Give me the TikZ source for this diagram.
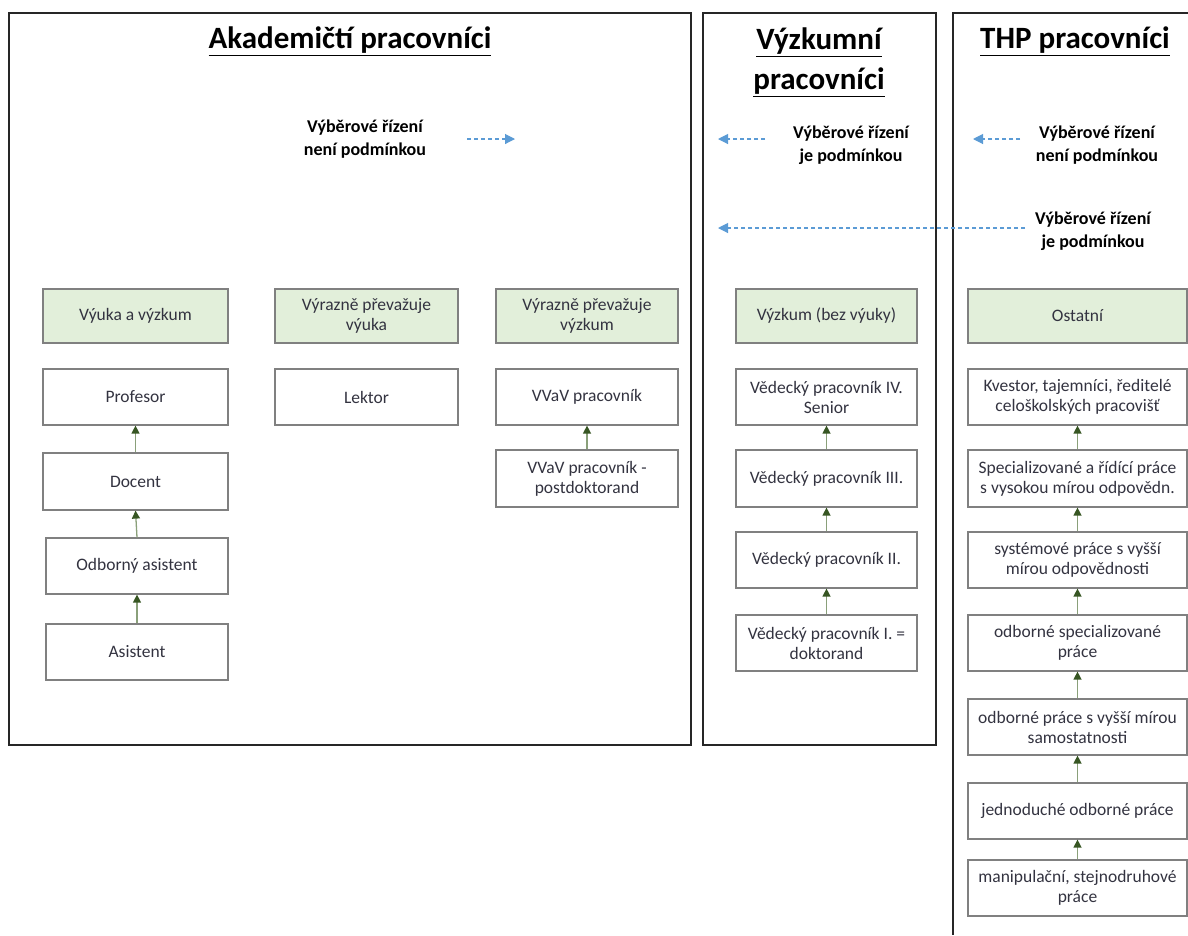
\documentclass[tikz,border=0pt]{standalone}
\usepackage{fontspec}
\setmainfont{Carlito}
\usetikzlibrary{arrows.meta}
\definecolor{hdrfill}{HTML}{E2EFDA}
\definecolor{boxline}{HTML}{808080}
\definecolor{txt}{HTML}{333340}
\definecolor{arrgreen}{HTML}{375623}
\definecolor{lnkgreen}{HTML}{8AA07A}
\definecolor{dblue}{HTML}{5B9BD5}
\tikzset{
  wbox/.style={draw=boxline, line width=1.2pt, fill=white, text=txt, font=\fontsize{17.5}{20}\selectfont, align=center, inner sep=2pt},
  gbox/.style={wbox, fill=hdrfill},
  frame/.style={draw=black!85, line width=1.5pt},
  uparr/.style={draw=lnkgreen, line width=1.3pt, -{Triangle[width=8pt,length=8pt,fill=arrgreen,color=arrgreen]}},
  selarr/.style={draw=dblue, line width=1.1pt, dash pattern=on 4pt off 3pt, -{Triangle[width=10pt,length=10pt,fill=dblue,color=dblue]}},
  lbl/.style={font=\bfseries\fontsize{18}{23}\selectfont, align=center, text=black},
  ttl/.style={font=\bfseries\fontsize{31}{40}\selectfont, align=center, text=black}
}
\begin{document}
\begin{tikzpicture}[x=1pt,y=-1pt]
\useasboundingbox (0,0) rectangle (1188,935);
% frames
\draw[frame] (9,13) rectangle (691,745);
\draw[frame] (703,13) rectangle (936,745);
\draw[frame] (1188,13) -- (953,13) -- (953,935);
% titles
\node[ttl] (t1) at (350,41) {\underline{Akademičtí pracovníci}};
\node[ttl] (t2) at (819,62) {\underline{Výzkumní}\\\underline{pracovníci}};
\node[ttl] (t3) at (1075,41) {\underline{THP pracovníci}};
% labels
\node[lbl] (l1) at (365,139) {Výběrové řízení\\není podmínkou};
\node[lbl] (l2) at (851,145) {Výběrové řízení\\je podmínkou};
\node[lbl] (l3) at (1097,145) {Výběrové řízení\\není podmínkou};
\node[lbl] (l4) at (1093,231) {Výběrové řízení\\je podmínkou};
\coordinate (a1s) at (467,139); \coordinate (a1e) at (515,139);
\coordinate (a2s) at (765,139); \coordinate (a2e) at (718,139);
\coordinate (a3s) at (1020,139); \coordinate (a3e) at (973,139);
\coordinate (a4s) at (1025,228); \coordinate (a4e) at (718,228);
\draw[selarr] (a1s) -- (a1e);
\draw[selarr] (a2s) -- (a2e);
\draw[selarr] (a3s) -- (a3e);
\draw[selarr] (a4s) -- (a4e);
% headers
\node[gbox, minimum width=185pt, minimum height=54pt] (h1) at (135.5,316) {Výuka a výzkum};
\node[gbox, minimum width=183pt, minimum height=54pt] (h2) at (366.5,316) {Výrazně převažuje\\výuka};
\node[gbox, minimum width=182pt, minimum height=54pt] (h3) at (587,316) {Výrazně převažuje\\výzkum};
\node[gbox, minimum width=181pt, minimum height=54pt] (h4) at (826.5,316) {Výzkum (bez výuky)};
\node[gbox, minimum width=219pt, minimum height=54pt] (h5) at (1077.5,316) {Ostatní};
% column 1
\node[wbox, minimum width=185pt, minimum height=56pt] (prof) at (135.5,397) {Profesor};
\node[wbox, minimum width=185pt, minimum height=57pt] (doc) at (135.5,481.5) {Docent};
\node[wbox, minimum width=182pt, minimum height=56pt] (oa) at (137,566) {Odborný asistent};
\node[wbox, minimum width=182pt, minimum height=56pt] (as) at (137,652) {Asistent};
\draw[uparr] (doc.north) -- (prof.south);
\draw[uparr] (oa.north) -- (doc.south);
\draw[uparr] (as.north) -- (oa.south);
% column 2
\node[wbox, minimum width=183pt, minimum height=56pt] (lek) at (366.5,397) {Lektor};
% column 3
\node[wbox, minimum width=182pt, minimum height=56pt] (vv1) at (587,397) {VVaV pracovník};
\node[wbox, minimum width=182pt, minimum height=57pt] (vv2) at (587,478.5) {VVaV pracovník -\\postdoktorand};
\draw[uparr] (vv2.north) -- (vv1.south);
% column 4
\node[wbox, minimum width=181pt, minimum height=56pt] (v4) at (826.5,397) {Vědecký pracovník IV.\\Senior};
\node[wbox, minimum width=181pt, minimum height=57pt] (v3) at (826.5,478.5) {Vědecký pracovník III.};
\node[wbox, minimum width=181pt, minimum height=56pt] (v2) at (826.5,560) {Vědecký pracovník II.};
\node[wbox, minimum width=181pt, minimum height=56pt] (v1) at (826.5,643) {Vědecký pracovník I. =\\doktorand};
\draw[uparr] (v3.north) -- (v4.south);
\draw[uparr] (v2.north) -- (v3.south);
\draw[uparr] (v1.north) -- (v2.south);
% column 5
\node[wbox, minimum width=219pt, minimum height=56pt] (p7) at (1077.5,397) {Kvestor, tajemníci, ředitelé\\celoškolských pracovišť};
\node[wbox, minimum width=219pt, minimum height=57pt] (p6) at (1077.5,478.5) {Specializované a řídící práce\\s vysokou mírou odpovědn.};
\node[wbox, minimum width=219pt, minimum height=56pt] (p5) at (1077.5,560) {systémové práce s vyšší\\mírou odpovědnosti};
\node[wbox, minimum width=219pt, minimum height=56pt] (p4) at (1077.5,643) {odborné specializované\\práce};
\node[wbox, minimum width=219pt, minimum height=56pt] (p3) at (1077.5,727) {odborné práce s vyšší mírou\\samostatnosti};
\node[wbox, minimum width=219pt, minimum height=56pt] (p2) at (1077.5,811) {jednoduché odborné práce};
\node[wbox, minimum width=219pt, minimum height=56pt] (p1) at (1077.5,888) {manipulační, stejnodruhové\\práce};
\draw[uparr] (p6.north) -- (p7.south);
\draw[uparr] (p5.north) -- (p6.south);
\draw[uparr] (p4.north) -- (p5.south);
\draw[uparr] (p3.north) -- (p4.south);
\draw[uparr] (p2.north) -- (p3.south);
\draw[uparr] (p1.north) -- (p2.south);
\end{tikzpicture}
\end{document}
